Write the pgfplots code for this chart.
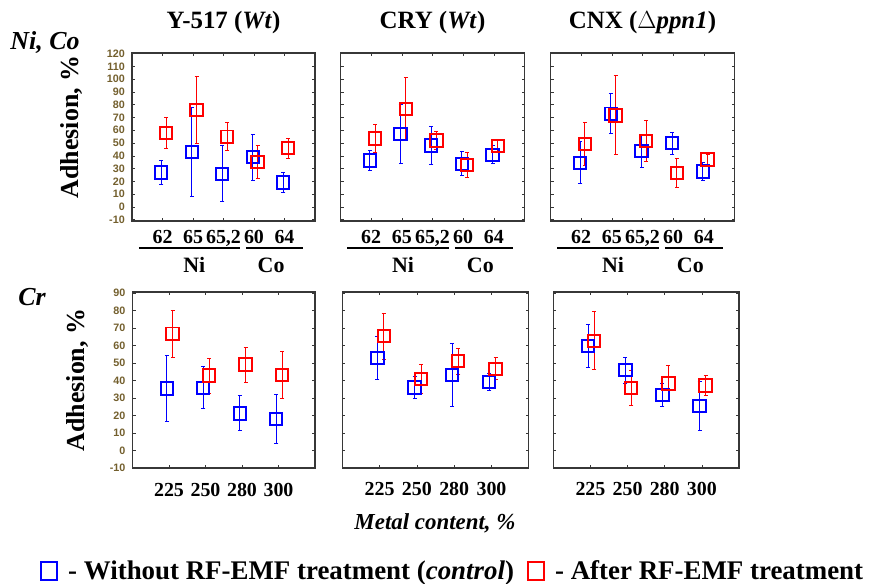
\documentclass[border=0pt]{standalone}
\usepackage{fontspec}
\setmainfont{Liberation Serif}
\newfontfamily\ticksans{Liberation Sans}
\usepackage{pgfplots}
\pgfplotsset{compat=1.18}
\definecolor{tickcol}{RGB}{115,95,45}
\definecolor{myblue}{RGB}{0,0,255}
\definecolor{myred}{RGB}{255,0,0}
\definecolor{framecol}{RGB}{55,55,55}
\pgfplotsset{
  panel/.style={scale only axis, clip=false,
    axis line style={framecol, line width=1.1pt},
    tick style={framecol, line width=0.6pt},
    tick align=inside, major tick length=3bp,
    xtick pos=both, ytick pos=both,
    /pgf/number format/assume math mode=true,
    xticklabel style={font=\fontsize{20}{24}\selectfont\bfseries, anchor=base, inner sep=0pt},
    yticklabel style={font=\ticksans\bfseries\fontsize{10.8}{12}\selectfont, text=tickcol, anchor=east, inner sep=0pt, xshift=-7bp},
    title style={font=\fontsize{25}{30}\selectfont\bfseries, anchor=base, yshift=19bp},
    ylabel style={font=\fontsize{26}{30}\selectfont\bfseries, anchor=center},
  },
  toppanel/.style={panel, width=184bp, height=168bp, xmin=0, xmax=6, ymin=-11, ymax=120.5,
    xtick={1,2,3,4,5}, xticklabels={62,65,{65,2},60,64},
    xticklabel style={yshift=-23bp},
    ytick={-10,0,10,20,30,40,50,60,70,80,90,100,110,120}},
  botpanel/.style={panel, width=184bp, height=176bp, xmin=0, xmax=5, ymin=-10, ymax=90.5,
    xtick={1,2,3,4}, xticklabels={225,250,280,300},
    xticklabel style={yshift=-28bp},
    ytick={-10,0,10,20,30,40,50,60,70,80,90}},
  bluestyle/.style={only marks, mark=square, mark size=6.2pt, color=myblue, mark options={line width=2pt},
    legend image code/.code={\draw[myblue, line width=2.2pt] (0bp,-9bp) rectangle (16bp,9bp);},
    error bars/.cd, y dir=both, y explicit, error bar style={line width=0.9pt}, error mark options={rotate=90, mark size=2bp, line width=0.9pt}},
  redstyle/.style={only marks, mark=square, mark size=6.2pt, color=myred, mark options={line width=2pt},
    legend image code/.code={\draw[myred, line width=2.2pt] (0bp,-9bp) rectangle (16bp,9bp);},
    error bars/.cd, y dir=both, y explicit, error bar style={line width=0.9pt}, error mark options={rotate=90, mark size=2bp, line width=0.9pt}},
}
\newcommand{\groups}{%
  \draw[black, line width=1.2pt] (axis description cs:0.038,-0.161) -- (axis description cs:0.588,-0.161);
  \draw[black, line width=1.2pt] (axis description cs:0.622,-0.161) -- (axis description cs:0.936,-0.161);
  \node[anchor=base, font=\fontsize{22}{26}\selectfont\bfseries] at (axis description cs:0.34,-0.304) {Ni};
  \node[anchor=base, font=\fontsize{22}{26}\selectfont\bfseries] at (axis description cs:0.76,-0.304) {Co};
}
\begin{document}
\begin{tikzpicture}
\useasboundingbox (0bp,0bp) rectangle (869bp,584bp);

% ---------- top row ----------
\begin{axis}[toppanel, at={(132bp,363bp)}, anchor=south west, width=183bp,
  title={Y-517 (\textit{Wt})},
  yticklabels={-10,0,10,20,30,40,50,60,70,80,90,100,110,120},
  ylabel={Adhesion, \%}, ylabel style={at={(axis description cs:-0.328,0.56)}}]
\addplot[bluestyle] coordinates {(0.96,27) +- (0,9.5) (1.96,43) +- (0,35) (2.96,26) +- (0,22) (3.96,39) +- (0,18) (4.96,19) +- (0,8)};
\addplot[redstyle] coordinates {(1.12,58) +- (0,12) (2.12,76) +- (0,26) (3.12,55) +- (0,11) (4.12,35) +- (0,13) (5.12,46) +- (0,8)};
\groups
\end{axis}

\begin{axis}[toppanel, at={(340.5bp,363bp)}, anchor=south west,
  title={CRY (\textit{Wt})}, yticklabels={}]
\addplot[bluestyle] coordinates {(0.96,36.4) +- (0,8) (1.96,57.3) +- (0,23) (2.96,48) +- (0,15) (3.96,33.8) +- (0,9.5) (4.96,40.9) +- (0,7)};
\addplot[redstyle] coordinates {(1.13,53.7) +- (0,11) (2.13,76.7) +- (0,25) (3.13,51.9) +- (0,7) (4.13,33) +- (0,10) (5.13,47.7) +- (0,5)};
\groups
\end{axis}

\begin{axis}[toppanel, at={(550.5bp,363bp)}, anchor=south west,
  title={CNX ($\Delta$\textit{ppn1})}, yticklabels={}]
\addplot[bluestyle] coordinates {(0.97,34.6) +- (0,16.5) (1.97,73) +- (0,15.5) (2.97,43.8) +- (0,13) (3.97,50) +- (0,8.6) (4.97,27.8) +- (0,6.8)};
\addplot[redstyle] coordinates {(1.12,49.5) +- (0,17) (2.12,71.7) +- (0,31) (3.12,51.6) +- (0,16) (4.12,26.8) +- (0,11.4) (5.12,37) +- (0,4)};
\groups
\end{axis}

% ---------- bottom row ----------
\begin{axis}[botpanel, at={(132.5bp,116bp)}, anchor=south west, width=182.5bp,
  yticklabels={-10,0,10,20,30,40,50,60,70,80,90},
  ylabel={Adhesion, \%}, ylabel style={at={(axis description cs:-0.304,0.5)}},
  legend columns=2,
  legend style={at={(axis description cs:-0.524,-0.585)}, anchor=west, draw=none, fill=none,
    font=\fontsize{27}{31}\selectfont\bfseries,
    /tikz/every odd column/.append style={column sep=8bp},
    /tikz/every even column/.append style={column sep=11bp}}]
\addplot[bluestyle] coordinates {(0.94,35.3) +- (0,19) (1.94,35.8) +- (0,12) (2.94,21.2) +- (0,10) (3.94,18) +- (0,14)};
\addlegendentry{- Without RF-EMF treatment (\textit{control})}
\addplot[redstyle] coordinates {(1.1,66.7) +- (0,13.4) (2.1,42.8) +- (0,10) (3.1,49.1) +- (0,10) (4.1,43) +- (0,13.5)};
\addlegendentry{- After RF-EMF treatment}
\end{axis}

\begin{axis}[botpanel, at={(342.3bp,116bp)}, anchor=south west, width=186.5bp, yticklabels={}]
\addplot[bluestyle] coordinates {(0.94,52.9) +- (0,12.5) (1.94,36) +- (0,6.4) (2.94,43.2) +- (0,18) (3.94,39) +- (0,5)};
\addplot[redstyle] coordinates {(1.11,65.2) +- (0,13) (2.11,40.8) +- (0,8.5) (3.11,51) +- (0,7.5) (4.11,46.6) +- (0,6.3)};
\end{axis}

\begin{axis}[botpanel, at={(553.3bp,116bp)}, anchor=south west, width=185.7bp, yticklabels={}]
\addplot[bluestyle] coordinates {(0.94,59.7) +- (0,12) (1.94,45.9) +- (0,7.5) (2.94,31.7) +- (0,6.6) (3.94,25.4) +- (0,14)};
\addplot[redstyle] coordinates {(1.1,62.7) +- (0,16.6) (2.1,35.5) +- (0,10) (3.1,38.3) +- (0,10.4) (4.1,37.2) +- (0,5.5)};
\end{axis}

% ---------- free labels ----------
\node[anchor=base, font=\fontsize{26}{30}\selectfont\bfseries\itshape] at (45bp,534bp) {Ni, Co};
\node[anchor=base, font=\fontsize{26}{30}\selectfont\bfseries\itshape] at (32bp,278bp) {Cr};
\node[anchor=base, font=\fontsize{23}{27}\selectfont\bfseries\itshape] at (435bp,54bp) {Metal content, \%};
\end{tikzpicture}
\end{document}
